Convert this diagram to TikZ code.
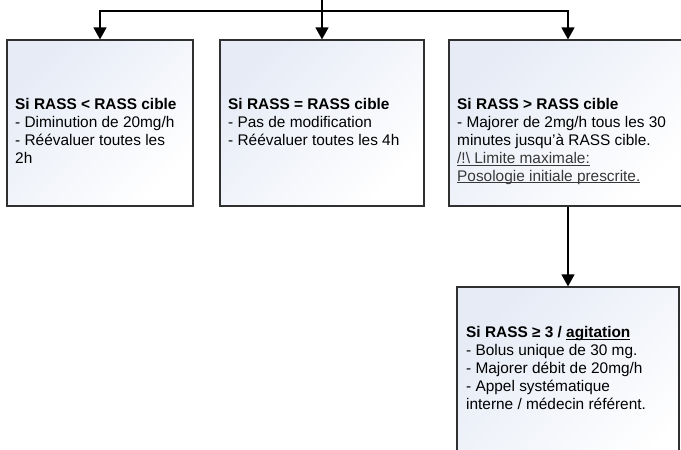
\documentclass[tikz,border=0pt]{standalone}
\usepackage{fontspec}
\setmainfont{Liberation Sans}
\usetikzlibrary{arrows.meta}
\definecolor{boxtint}{HTML}{E6EBF6}
\definecolor{boxline}{HTML}{303030}
\definecolor{warntext}{HTML}{383838}
\newsavebox{\ulbox}
\newcommand{\ulfix}[1]{\sbox{\ulbox}{#1}\rlap{\rule[-2pt]{\wd\ulbox}{0.7pt}}\usebox{\ulbox}}
\tikzset{
  box/.style={draw=boxline, line width=1.2pt, top color=boxtint, bottom color=white,
    shading angle=45, minimum height=166pt, inner sep=0pt},
  txt/.style={anchor=north west, align=left, inner sep=0pt,
    font=\fontsize{15.4}{17.8}\selectfont},
  arr/.style={line width=1.4pt, -{Triangle[length=12pt,width=13pt]}},
}
\begin{document}
\begin{tikzpicture}[x=1pt,y=-1pt]
      \useasboundingbox (0,0) rectangle (681,450);
      \clip (0,0) rectangle (681,450);
      \node[box, minimum width=186pt] (lower) at (100,123) {};
      \node[box, minimum width=204pt] (equal) at (322,123) {};
      \node[box, minimum width=238pt] (higher) at (568,123) {};
      \node[box, minimum width=222pt, minimum height=200pt] (agit) at (568,387) {};
      \node[txt] (lowertxt) at (15,98.5)
        {\textbf{Si RASS < RASS cible}\\- Diminution de 20mg/h\\- Réévaluer toutes les\\2h};
      \node[txt] (equaltxt) at (228,98.5)
        {\textbf{Si RASS = RASS cible}\\- Pas de modification\\- Réévaluer toutes les 4h};
      \node[txt] (highertxt) at (457,98.5)
        {\textbf{Si RASS > RASS cible}\\- Majorer de 2mg/h tous les 30\\minutes jusqu’à RASS cible.\\
         \textcolor{warntext}{\ulfix{/!\textbackslash{} Limite maximale:}}\\
         \textcolor{warntext}{\ulfix{Posologie initiale prescrite.}}};
      \node[txt] (agittxt) at (466,326.5)
        {\textbf{Si RASS ≥ 3 / \ulfix{agitation}}\\- Bolus unique de 30 mg.\\- Majorer débit de 20mg/h\\
         - Appel systématique\\interne / médecin référent.};
      \coordinate (top) at (322,0);
      \coordinate (split) at (322,11);
      \begin{scope}[arr]
        \draw[-] (top) -- (split);
        \draw (split) -| (lower.north);
        \draw (split) -- (equal.north);
        \draw (split) -| (higher.north);
        \draw (higher.south) -- (agit.north);
      \end{scope}
    \end{tikzpicture}
\end{document}
